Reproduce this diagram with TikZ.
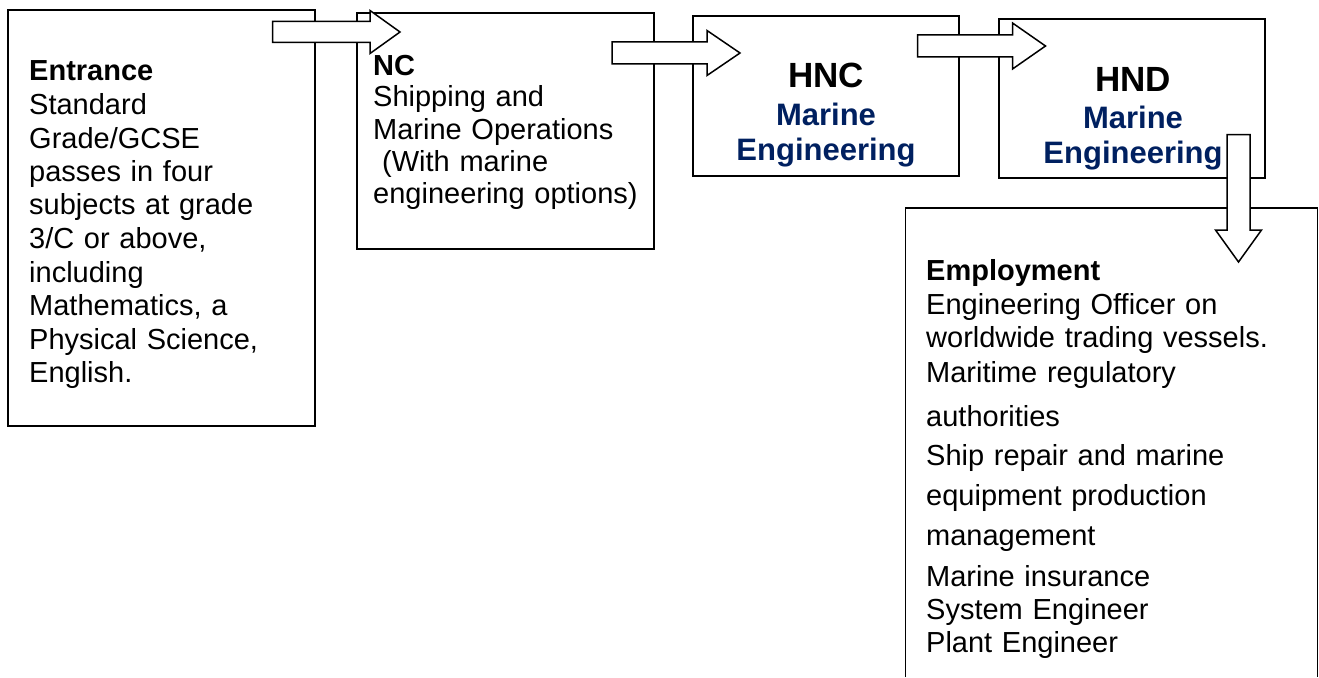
\documentclass[tikz,border=0pt]{standalone}
\usepackage{fontspec}
\setmainfont{Liberation Sans}
\definecolor{navyblue}{RGB}{0,32,96}
\begin{document}
\begin{tikzpicture}[x=1pt,y=-1pt,
  box/.style={draw, line width=1.8pt, rectangle, inner sep=0pt, outer sep=0pt, anchor=north west},
  blockarrow/.style={draw, line width=1.5pt, fill=white, line join=miter},
  bodytext/.style={inner sep=0pt, anchor=base west, align=left, text width=#1,
    font=\fontsize{29}{33.5}\selectfont},
  titletext/.style={inner sep=0pt, anchor=base, align=center, text width=260pt,
    font=\fontsize{31}{34}\selectfont\bfseries, text=navyblue},
]
\useasboundingbox (0,0) rectangle (1319,677);
% boxes
\node[box, minimum width=307pt, minimum height=416pt] (entr) at (8,10) {};
\node[box, minimum width=297pt, minimum height=236pt] (nc) at (357,13) {};
\node[box, minimum width=266pt, minimum height=160pt] (hnc) at (693,16) {};
\node[box, minimum width=266pt, minimum height=159pt] (hnd) at (999,19) {};
\coordinate (empbl) at (905.5,677);
\coordinate (emptl) at (905.5,208);
\coordinate (emptr) at (1317.5,208);
\coordinate (empbr) at (1317.5,677);
\draw[line width=1.8pt] (empbl) -- (emptl) -- (emptr) -- (empbr);
% texts
\node[bodytext=280pt] (entrtext) at (29,81) {\textbf{Entrance}\\Standard\\Grade/GCSE\\passes in four\\subjects at grade\\3/C or above,\\including\\Mathematics, a\\Physical Science,\\English.};
\node[bodytext=280pt, font=\fontsize{29}{32}\selectfont] (nctext) at (373,75) {\textbf{NC}\\Shipping and\\Marine Operations\\\hspace*{9pt}(With marine\\engineering options)};
\node[titletext] (hnctext) at (826,87) {{\color{black}\fontsize{35}{35}\selectfont HNC}\\[5pt]Marine\\Engineering};
\node[titletext, font=\fontsize{31}{35}\selectfont\bfseries] (hndtext) at (1133,91) {{\color{black}\fontsize{35}{35}\selectfont HND}\\[2pt]Marine\\Engineering};
\node[bodytext=380pt] (emptext) at (926,280) {\textbf{Employment}\\[0.5pt]Engineering Officer on\\worldwide trading vessels.\\[1.5pt]Maritime regulatory\\[10pt]authorities\\[5.5pt]Ship repair and marine\\[7pt]equipment production\\[6.5pt]management\\[7pt]Marine insurance\\System Engineer\\[-1pt]Plant Engineer};
% block arrows
\draw[blockarrow] (272.7,21.5) -- (370,21.5) -- (370,10.5) -- (400,32) -- (370,53.5) -- (370,42.5) -- (272.7,42.5) -- cycle;
\draw[blockarrow] (612,42) -- (707,42) -- (707,30.5) -- (740,53) -- (707,75.5) -- (707,64) -- (612,64) -- cycle;
\draw[blockarrow] (917.5,35) -- (1012.5,35) -- (1012.5,23) -- (1045.5,46) -- (1012.5,69) -- (1012.5,57) -- (917.5,57) -- cycle;
\draw[blockarrow] (1227,134.5) -- (1250,134.5) -- (1250,230) -- (1261.5,230) -- (1238.5,262) -- (1215.5,230) -- (1227,230) -- cycle;
\end{tikzpicture}
\end{document}
